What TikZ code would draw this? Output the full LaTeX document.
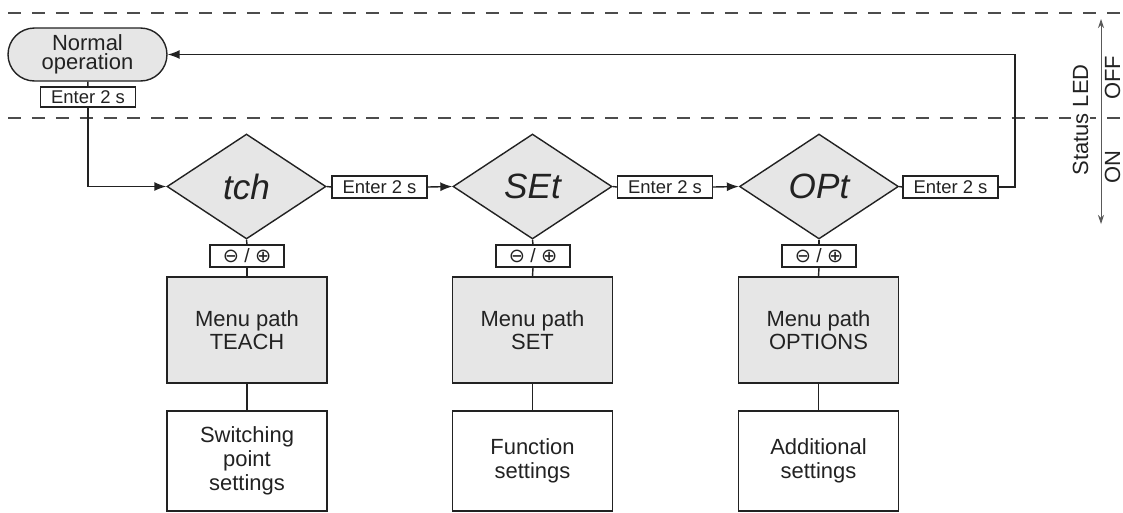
\documentclass[tikz,border=0pt]{standalone}
\usepackage{fontspec}
\setmainfont{Liberation Sans}
\newfontfamily\symfont{DejaVu Sans}
\usepackage{xcolor}
\usepackage{tikz}
\usetikzlibrary{shapes.geometric,arrows.meta}

\definecolor{boxgray}{HTML}{E6E6E6}
\definecolor{ink}{HTML}{222222}

\begin{document}
\begin{tikzpicture}[x=0.02cm, y=-0.02cm, line width=0.8pt, draw=ink, text=ink,
    startbox/.style={draw, fill=boxgray, rounded corners=0.53cm, minimum width=3.18cm,
      minimum height=1.06cm, inner sep=0pt, align=center,
      font=\fontsize{12.5}{11}\selectfont},
    keybox/.style={draw, fill=white, minimum width=1.9cm, minimum height=0.44cm,
      inner sep=0pt, font=\fontsize{10.5}{11}\selectfont},
    pmbox/.style={keybox, minimum width=1.48cm, font=\fontsize{11}{11}\selectfont},
    seg/.style={diamond, draw, fill=boxgray, minimum width=3.18cm, minimum height=2.1cm,
      inner sep=0pt, font=\fontsize{20}{20}\selectfont\itshape},
    menubox/.style={draw, fill=boxgray, minimum width=3.2cm, minimum height=2.12cm,
      inner sep=0pt, align=center, font=\fontsize{12.5}{13.5}\selectfont},
    setbox/.style={menubox, fill=white, minimum height=2cm},
    zone/.style={line width=0.6pt, draw=black!70, dash pattern=on 7.4pt off 6.2pt},
    arr/.style={-{Latex[length=2.4mm,width=1.8mm]}},
    ledtext/.style={rotate=90, anchor=base, font=\fontsize{12.5}{13}\selectfont}]
    \useasboundingbox (0,0) rectangle (1123,512);

    % LED zones
    \draw[zone] (8,13) -- (1123,13);
    \draw[zone] (8,118) -- (1123,118);

    \node[startbox] (norm) at (87.5,54.5) {Normal\\operation};
    \node[keybox, minimum height=0.4cm] (enter0) at (88,97) {Enter 2 s};

    \node[seg] (tch) at (246.5,186.5) {tch};
    \node[seg] (set) at (532.5,186.5) {SEt};
    \node[seg] (opt) at (819,186.5) {OPt};

    \node[keybox] (enter1) at (379.5,187) {Enter 2 s};
    \node[keybox] (enter2) at (665,187) {Enter 2 s};
    \node[keybox] (enter3) at (950.5,187) {Enter 2 s};

    \node[pmbox] (pm1) at (247,256) {{\symfont ⊖} / {\symfont ⊕}};
    \node[pmbox] (pm2) at (533,256) {{\symfont ⊖} / {\symfont ⊕}};
    \node[pmbox] (pm3) at (819,256) {{\symfont ⊖} / {\symfont ⊕}};

    \node[menubox] (menu1) at (247,330) {Menu path\\TEACH};
    \node[menubox] (menu2) at (532.5,330) {Menu path\\SET};
    \node[menubox] (menu3) at (818.5,330) {Menu path\\OPTIONS};

    \node[setbox] (set1) at (247,461) {Switching\\point\\settings};
    \node[setbox] (set2) at (532.5,461) {Function\\settings};
    \node[setbox] (set3) at (818.5,461) {Additional\\settings};

    % main loop
    \draw (norm) -- (enter0);
    \draw[arr] (enter0.south) |- (tch.west);
    \draw (tch.east) -- (enter1.west);
    \draw[arr] (enter1.east) -- (set.west);
    \draw (set.east) -- (enter2.west);
    \draw[arr] (enter2.east) -- (opt.west);
    \draw (opt.east) -- (enter3.west);
    \coordinate (turn) at (1015,54.5);
    \draw[arr] (enter3.east) -| (turn) -- (norm.east);

    % menu paths
    \draw (tch.south) -- (pm1.north);
    \draw (pm1.south) -- (menu1.north);
    \draw (menu1.south) -- (set1.north);
    \draw (set.south) -- (pm2.north);
    \draw (pm2.south) -- (menu2.north);
    \draw (menu2.south) -- (set2.north);
    \draw (opt.south) -- (pm3.north);
    \draw (pm3.south) -- (menu3.north);
    \draw (menu3.south) -- (set3.north);

    % status LED
    \coordinate (ledtop) at (1101,19);
    \coordinate (ledbot) at (1101,224);
    \draw[line width=0.5pt, draw=black!65, {Stealth[length=1.8mm,width=1.2mm]}-{Stealth[length=1.8mm,width=1.2mm]}] (ledtop) -- (ledbot);
    \node[ledtext, fill=white, inner sep=1pt] (led) at (1088,120) {Status LED};
    \node[ledtext] (off) at (1120,78) {OFF};
    \node[ledtext] (on) at (1120,167) {ON};
\end{tikzpicture}
\end{document}
